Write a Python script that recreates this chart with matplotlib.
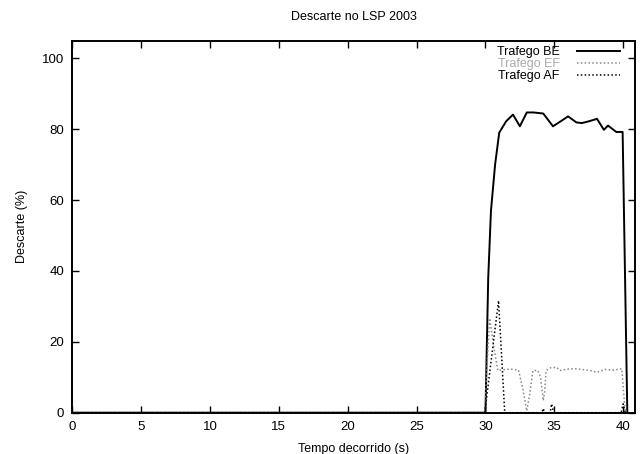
import matplotlib
matplotlib.use("Agg")
import matplotlib.pyplot as plt

plt.rcParams['font.family'] = ['Liberation Sans', 'DejaVu Sans']

# Trafego BE (solid)
be_t = [0, 29.9, 30.0, 30.2, 30.4, 30.7, 31.0, 31.5, 32.0, 32.5, 33.0, 33.5, 34.2,
        34.9, 35.5, 36.0, 36.6, 37.0, 37.5, 38.1, 38.6, 38.9, 39.5, 39.96, 40.3]
be_v = [0, 0, 0, 38, 57, 70, 79, 82.2, 84.1, 80.8, 84.7, 84.7, 84.4,
        80.8, 82.3, 83.6, 81.9, 81.7, 82.2, 82.9, 79.8, 81.0, 79.2, 79.2, 0]

# Trafego EF (gray dotted)
ef_t = [0, 29.95, 30.1, 30.3, 30.55, 30.9, 31.3, 31.8, 32.4, 32.7, 33.0, 33.2, 33.45,
        33.8, 34.0, 34.2, 34.3, 34.4, 34.8, 35.2, 35.4, 36.0, 36.6, 37.0, 37.6,
        38.1, 38.7, 39.3, 39.9, 40.15, 40.3]
ef_v = [0, 0, 12, 26.6, 20, 11.9, 12.1, 12.3, 12.0, 7, 0.5, 5, 11.9,
        11.9, 10, 3.4, 6, 11.9, 12.8, 12.7, 11.9, 12.3, 12.4, 12.2, 11.9,
        11.4, 12.2, 12.0, 12.4, 0, 0]

# Trafego AF (black dotted)
af_t = [0, 29.95, 30.95, 31.4, 34.1, 34.2, 34.3, 34.7, 34.8, 34.95, 39.85, 40.0, 40.15, 40.3]
af_v = [0, 0, 31.6, 0, 0, 1.2, 0, 0, 2.5, 0, 0, 2.5, 0, 0]

fig = plt.figure(figsize=(6.4, 4.54), dpi=100)
ax = fig.add_axes([0.113, 0.091, 0.879, 0.819])

ax.plot(be_t, be_v, color='black', lw=1.4, label='Trafego BE')
ax.plot(ef_t, ef_v, color='#888888', lw=1.1, ls=(0, (1, 1.5)), label='Trafego EF')
ax.plot(af_t, af_v, color='black', lw=1.1, ls=(0, (1, 1.5)), label='Trafego AF')

ax.set_xlim(0, 40.85)
ax.set_ylim(0, 104.9)
ax.set_xticks(range(0, 41, 5))
ax.set_yticks(range(0, 101, 20))
ax.tick_params(direction='in', top=True, right=True, length=5, width=1,
               labelsize=9.5, pad=6)
for s in ax.spines.values():
    s.set_linewidth(1.4)

ax.set_title('Descarte no LSP 2003', fontsize=9, pad=15)
ax.set_xlabel('Tempo decorrido (s)', fontsize=9, labelpad=7)
ax.set_ylabel('Descarte (%)', fontsize=9, labelpad=10)

leg = ax.legend(loc='upper right', bbox_to_anchor=(0.973, 0.985), frameon=False,
                markerfirst=False, fontsize=9, handlelength=3.4,
                labelspacing=-0.02, borderpad=0, borderaxespad=0,
                handletextpad=1.4)
leg.get_texts()[1].set_color('#aaaaaa')

fig.savefig('out.png', dpi=100)
